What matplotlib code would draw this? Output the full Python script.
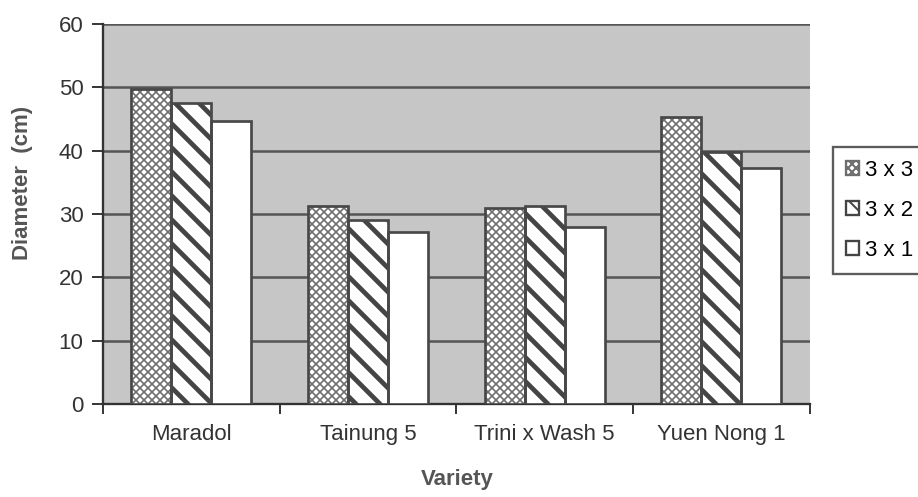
import matplotlib
matplotlib.use("Agg")
import matplotlib.pyplot as plt
import numpy as np

# ---------- data ----------
varieties = ["Maradol", "Tainung 5", "Trini x Wash 5", "Yuen Nong 1"]
spacing_labels = ["3 x 3", "3 x 2", "3 x 1"]
d_3x3 = [49.7, 31.3, 31.0, 45.3]
d_3x2 = [47.5, 29.1, 31.2, 39.8]
d_3x1 = [44.7, 27.2, 28.0, 37.3]

# render at a higher dpi so the hatch spacing comes out like the original;
# all point sizes are scaled back by S
DPI = 144
S = 100 / DPI

plt.rcParams['font.family'] = ['Liberation Sans', 'DejaVu Sans']
fs = 16 * S

fig = plt.figure(figsize=(918 / DPI, 497 / DPI), dpi=DPI)
ax = fig.add_axes([0.112, 0.187, 0.770, 0.765])
ax.set_facecolor('#c6c6c6')

x = np.arange(len(varieties))
w = 0.226
series = [d_3x3, d_3x2, d_3x1]
hatches = ['xxxxxx', '\\\\', '']
hatch_cols = ['#6e6e6e', '#444444', '#444444']
hatch_lw = [1.2 * S, 3.4 * S, 1.0 * S]
for i, (vals, lab, h) in enumerate(zip(series, spacing_labels, hatches)):
    with plt.rc_context({'hatch.linewidth': hatch_lw[i]}):
        fill = ax.bar(x + (i - 1) * w, vals, w, color='white',
                      edgecolor=hatch_cols[i], linewidth=0, hatch=h,
                      zorder=3)
        for p in fill:
            if hasattr(p, 'set_hatch_linewidth'):
                p.set_hatch_linewidth(hatch_lw[i])
    ax.bar(x + (i - 1) * w, vals, w, color='none', edgecolor='#484848',
           linewidth=1.4 * S * 1.39, zorder=4)
    # legend proxy
    with plt.rc_context({'hatch.linewidth': hatch_lw[i]}):
        prx = ax.bar([0], [0], 0, color='white', edgecolor=hatch_cols[i],
                     linewidth=1.2 * S * 1.39, hatch=h, label=lab)
        for p in prx:
            if hasattr(p, 'set_hatch_linewidth'):
                p.set_hatch_linewidth(hatch_lw[i])

ax.set_xlim(-0.5, len(varieties) - 0.5)
ax.set_ylim(0, 60)
ax.set_yticks(np.arange(0, 61, 10))
ax.yaxis.grid(True, color='#555555', linewidth=1.3 * S * 1.39, zorder=1)
ax.set_axisbelow(True)

ax.set_xticks(x)
ax.set_xticklabels(varieties, fontsize=fs, color='#333333')
ax.set_xticks(np.arange(-0.5, len(varieties), 1), minor=True)
ax.tick_params(axis='x', which='major', length=0, pad=14 * S)
ax.tick_params(axis='x', which='minor', length=7 * S, width=1 * S * 1.39,
               color='#333333', direction='out')
ax.tick_params(axis='y', length=8 * S, width=1 * S * 1.39, color='#333333',
               labelsize=fs, labelcolor='#333333', pad=6 * S)

for s in ['top', 'right']:
    ax.spines[s].set_visible(False)
for s in ['left', 'bottom']:
    ax.spines[s].set_color('#333333')
    ax.spines[s].set_linewidth(1.2 * S * 1.39)

fig.text(0.498, 0.035, "Variety", ha='center', va='center', fontsize=fs,
         fontweight='bold', color='#555555')
fig.text(0.024, 0.632, "Diameter  (cm)", ha='center', va='center', rotation=90,
         fontsize=fs, fontweight='bold', color='#555555')

leg = ax.legend(loc='upper left', bbox_to_anchor=(0.907, 0.705),
                bbox_transform=fig.transFigure, frameon=True, fancybox=False,
                fontsize=fs, handlelength=0.6, handleheight=0.6,
                handletextpad=0.25, labelspacing=0.85, borderpad=0.6,
                borderaxespad=0)
leg.get_frame().set_edgecolor('#333333')
leg.get_frame().set_linewidth(1.2 * S * 1.39)
leg.get_frame().set_facecolor('white')

fig.savefig("out.png", dpi=DPI)
